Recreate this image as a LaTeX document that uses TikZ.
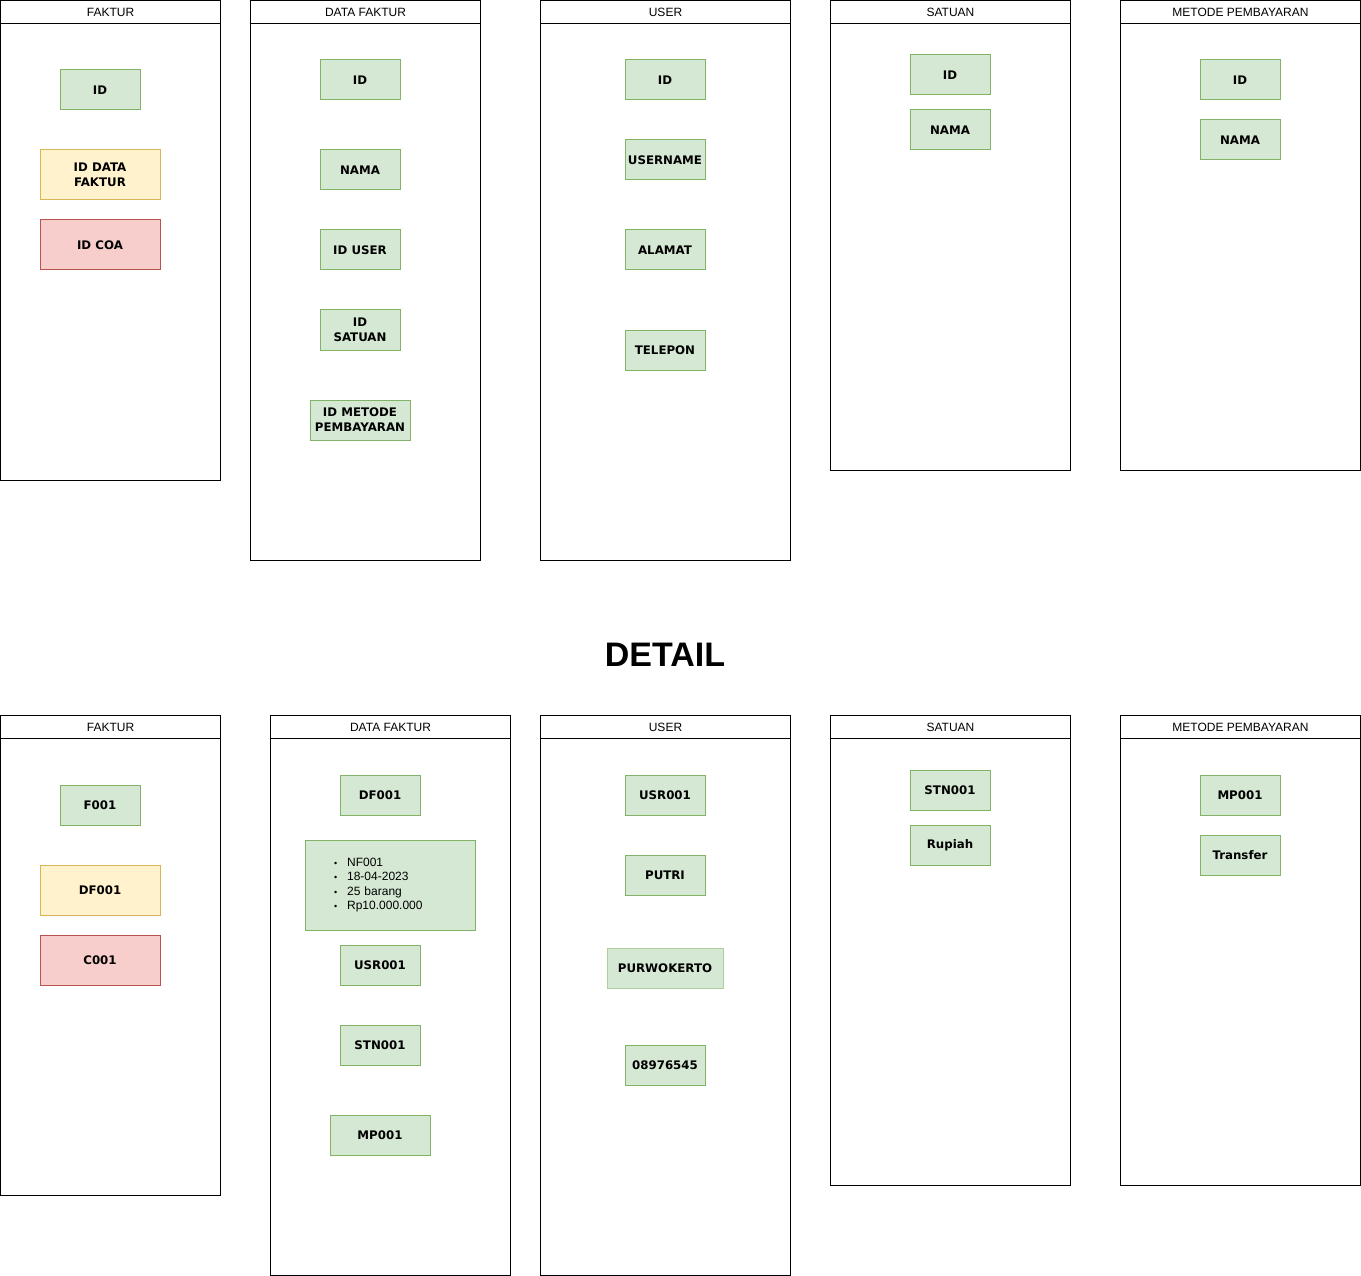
\documentclass[tikz,border=0pt]{standalone}
\usepackage{fontspec}
\setmainfont{Liberation Sans}
\newfontfamily\boxfont{DejaVu Sans}
\usepackage{tikz}
\definecolor{greenfill}{HTML}{D5E8D4}
\definecolor{greenline}{HTML}{82B366}
\definecolor{yellowfill}{HTML}{FFF2CC}
\definecolor{yellowline}{HTML}{D6B656}
\definecolor{redfill}{HTML}{F8CECC}
\definecolor{redline}{HTML}{B85450}

\begin{document}
\begin{tikzpicture}[x=1pt,y=-1pt,line width=1pt,
  table/.style={draw,inner sep=0pt,anchor=north west},
  table title/.style={draw,inner sep=0pt,anchor=north west,minimum height=23pt,
    font=\fontsize{12}{14}\selectfont},
  attr/.style={draw=greenline,fill=greenfill,inner sep=0pt,minimum width=80pt,
    minimum height=40pt,align=center,font=\boxfont\bfseries\fontsize{11.8}{15}\selectfont},
  fk attr/.style={attr,draw=yellowline,fill=yellowfill,minimum width=120pt,minimum height=50pt},
  coa attr/.style={attr,draw=redline,fill=redfill,minimum width=120pt,minimum height=50pt}]

  \useasboundingbox (0,0) rectangle (1361,1276);

  % struktur tabel
  \node[table,minimum width=220pt,minimum height=480pt] (faktur) at (0,0) {};
  \node[table title,minimum width=220pt] (fakturT) at (0,0) {FAKTUR};
  \node[attr] (fakturId) at (100,90) {ID};
  \node[fk attr] (fakturDf) at (100,175) {ID DATA\\FAKTUR};
  \node[coa attr] (fakturCoa) at (100,245) {ID COA};

  \node[table,minimum width=230pt,minimum height=560pt] (data) at (250,0) {};
  \node[table title,minimum width=230pt] (dataT) at (250,0) {DATA FAKTUR};
  \node[attr] (dataId) at (360,80) {ID};
  \node[attr] (dataNama) at (360,170) {NAMA};
  \node[attr] (dataUser) at (360,250) {ID USER};
  \node[attr] (dataSatuan) at (360,330) {ID\\SATUAN};
  \node[attr,minimum width=100pt] (dataMetode) at (360,420) {ID METODE\\PEMBAYARAN};

  \node[table,minimum width=250pt,minimum height=560pt] (user) at (540,0) {};
  \node[table title,minimum width=250pt] (userT) at (540,0) {USER};
  \node[attr] (userId) at (665,80) {ID};
  \node[attr] (userName) at (665,160) {USERNAME};
  \node[attr] (userAlamat) at (665,250) {ALAMAT};
  \node[attr] (userTelp) at (665,350) {TELEPON};

  \node[table,minimum width=240pt,minimum height=470pt] (satuan) at (830,0) {};
  \node[table title,minimum width=240pt] (satuanT) at (830,0) {SATUAN};
  \node[attr] (satuanId) at (950,75) {ID};
  \node[attr] (satuanNama) at (950,130) {NAMA};

  \node[table,minimum width=240pt,minimum height=470pt] (metode) at (1120,0) {};
  \node[table title,minimum width=240pt] (metodeT) at (1120,0) {METODE PEMBAYARAN};
  \node[attr] (metodeId) at (1240,80) {ID};
  \node[attr] (metodeNama) at (1240,140) {NAMA};

  \node[font=\bfseries\fontsize{34}{40}\selectfont] (detail) at (665,655) {DETAIL};

  % isi tabel
  \node[table,minimum width=220pt,minimum height=480pt] (faktur2) at (0,715) {};
  \node[table title,minimum width=220pt] (faktur2T) at (0,715) {FAKTUR};
  \node[attr] (faktur2Id) at (100,805) {F001};
  \node[fk attr] (faktur2Df) at (100,890) {DF001};
  \node[coa attr] (faktur2Coa) at (100,960) {C001};

  \node[table,minimum width=240pt,minimum height=560pt] (data2) at (270,715) {};
  \node[table title,minimum width=240pt] (data2T) at (270,715) {DATA FAKTUR};
  \node[attr] (data2Id) at (380,795) {DF001};
  \node[attr,minimum width=170pt,minimum height=90pt,inner xsep=29pt,text width=112pt,
    align=left,font=\fontsize{12}{14.5}\selectfont] (data2Isi) at (390,885)
    {{\small\textbullet}\hspace{10pt}NF001\\{\small\textbullet}\hspace{10pt}18-04-2023\\
     {\small\textbullet}\hspace{10pt}25 barang\\{\small\textbullet}\hspace{10pt}Rp10.000.000};
  \node[attr] (data2User) at (380,965) {USR001};
  \node[attr] (data2Satuan) at (380,1045) {STN001};
  \node[attr,minimum width=100pt] (data2Metode) at (380,1135) {MP001};

  \node[table,minimum width=250pt,minimum height=560pt] (user2) at (540,715) {};
  \node[table title,minimum width=250pt] (user2T) at (540,715) {USER};
  \node[attr] (user2Id) at (665,795) {USR001};
  \node[attr] (user2Name) at (665,875) {PUTRI};
  \node[attr,minimum width=116pt,draw=greenline!65!white] (user2Alamat) at (665,968) {PURWOKERTO};
  \node[attr] (user2Telp) at (665,1065) {08976545};

  \node[table,minimum width=240pt,minimum height=470pt] (satuan2) at (830,715) {};
  \node[table title,minimum width=240pt] (satuan2T) at (830,715) {SATUAN};
  \node[attr] (satuan2Id) at (950,790) {STN001};
  \node[attr] (satuan2Nama) at (950,845) {Rupiah};

  \node[table,minimum width=240pt,minimum height=470pt] (metode2) at (1120,715) {};
  \node[table title,minimum width=240pt] (metode2T) at (1120,715) {METODE PEMBAYARAN};
  \node[attr] (metode2Id) at (1240,795) {MP001};
  \node[attr] (metode2Nama) at (1240,855) {Transfer};
\end{tikzpicture}
\end{document}
